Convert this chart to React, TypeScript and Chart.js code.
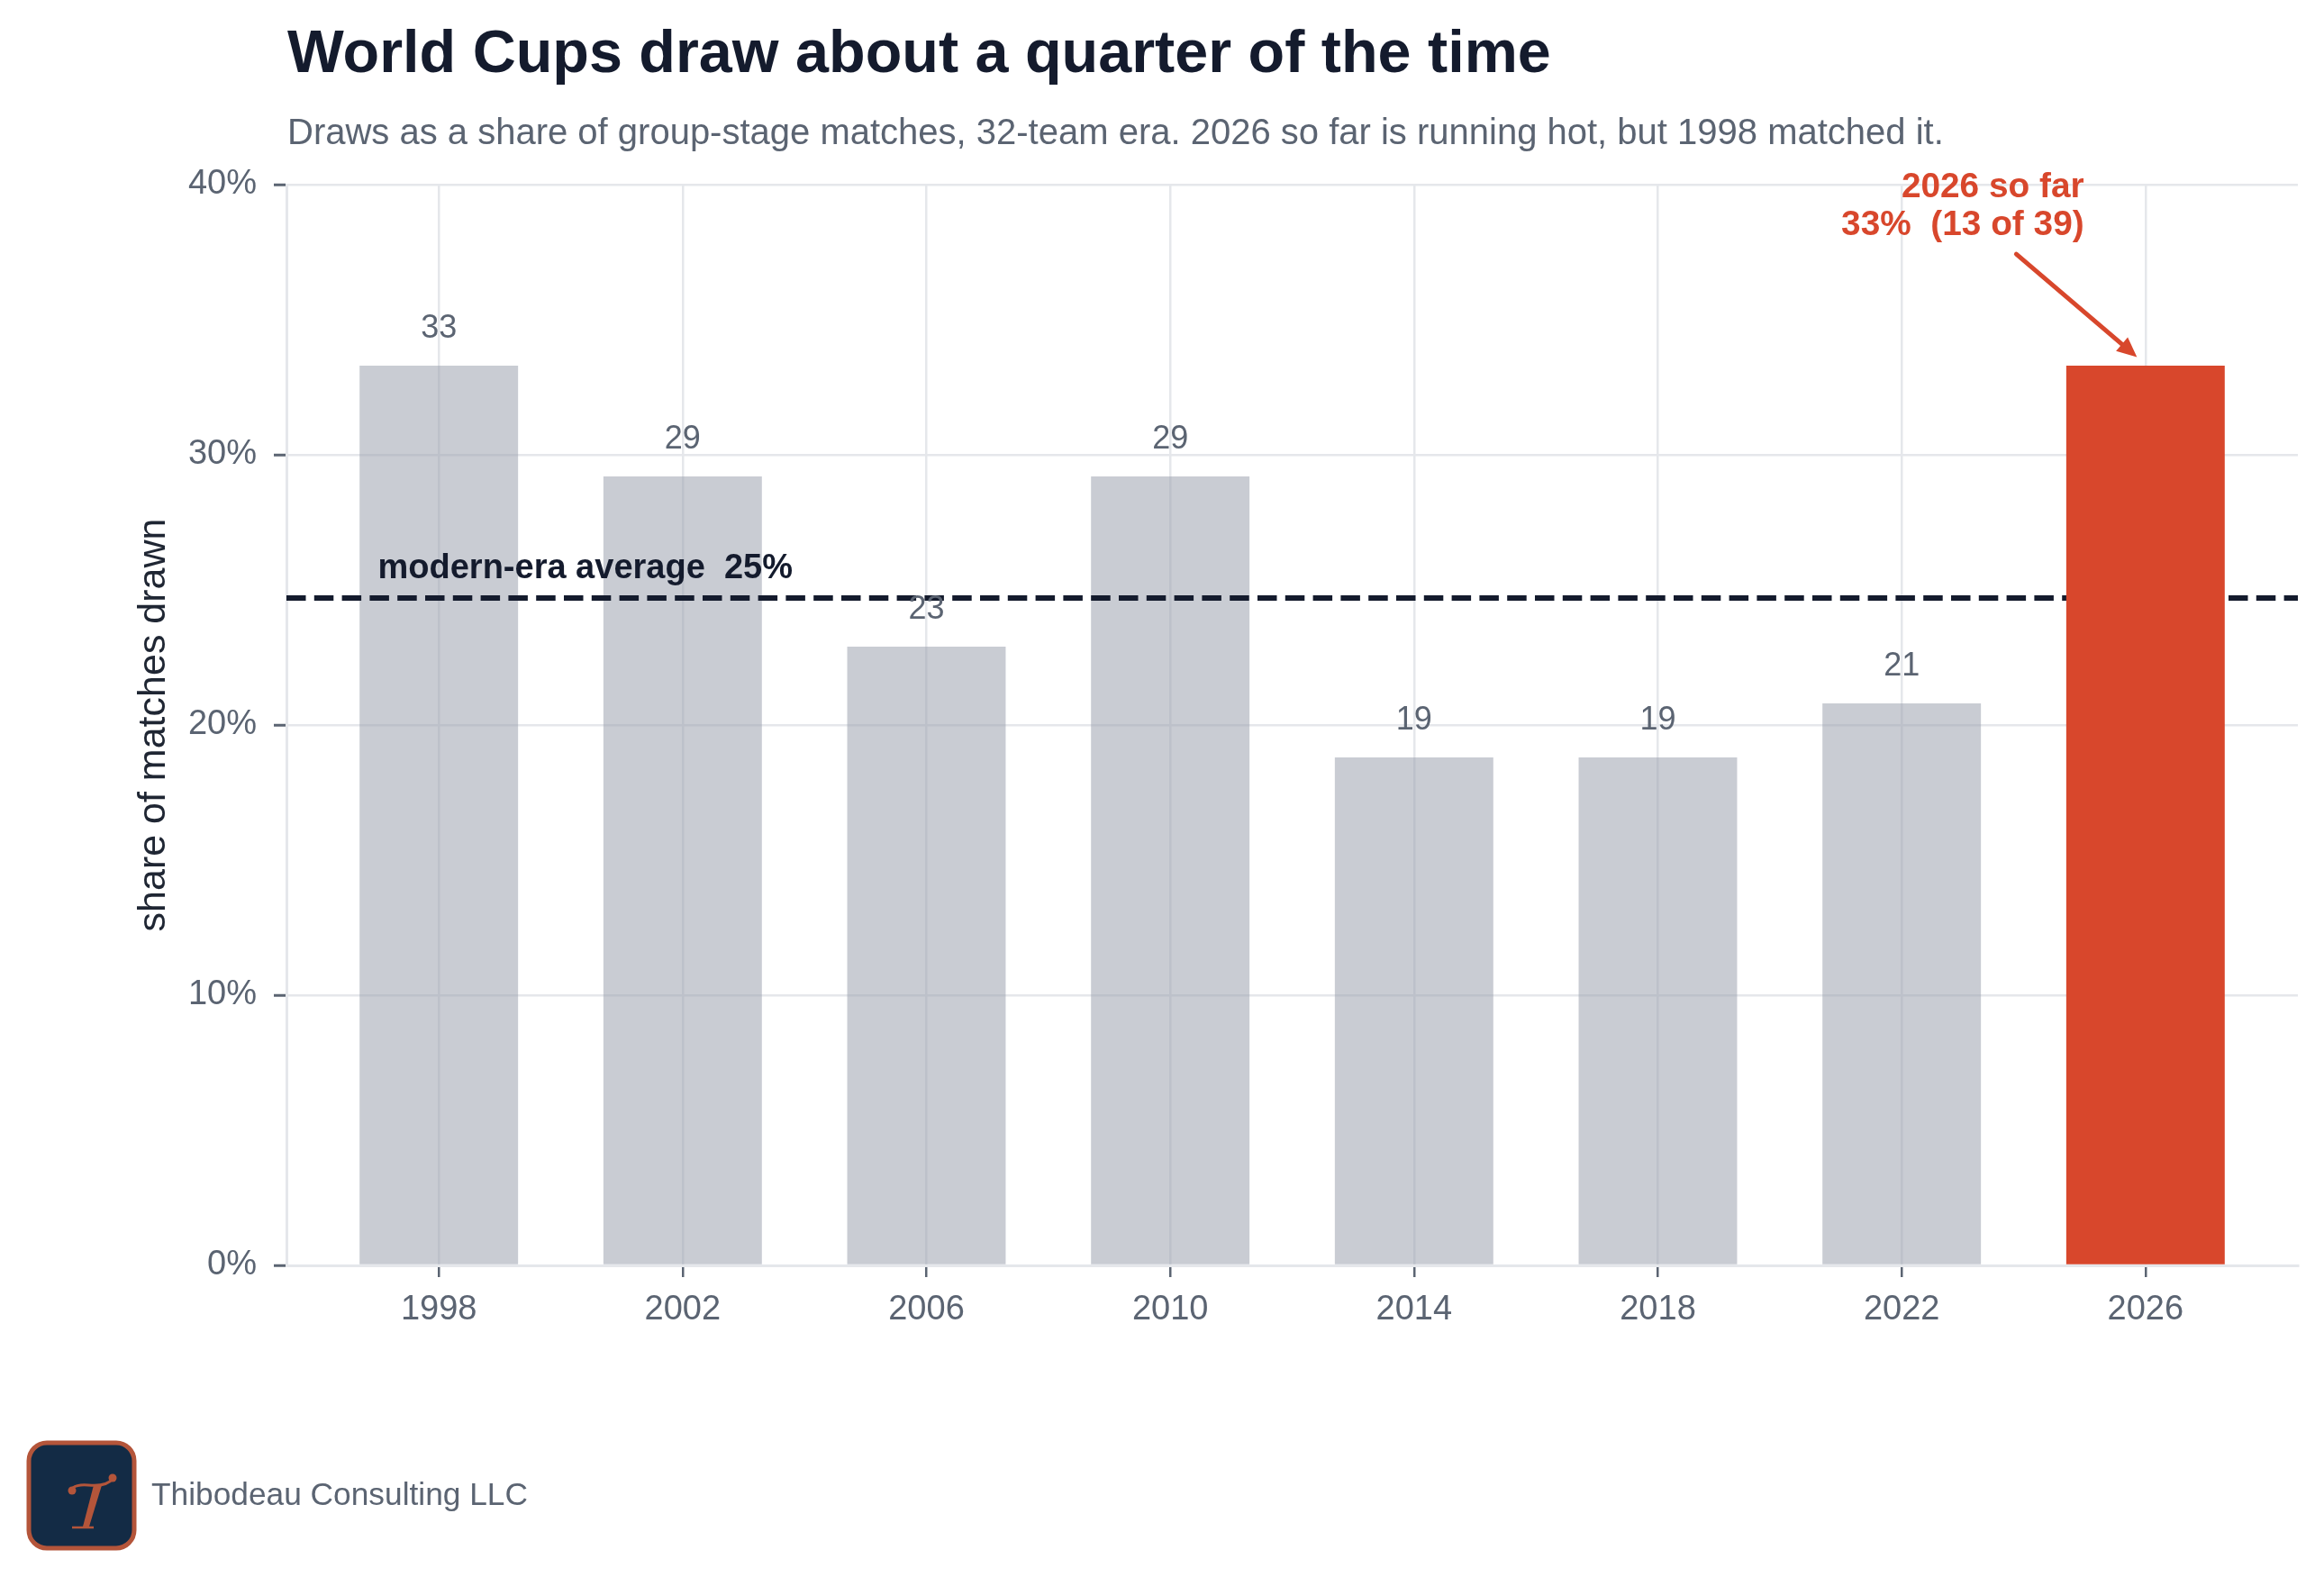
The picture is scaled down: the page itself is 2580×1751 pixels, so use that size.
import React, { useEffect, useRef } from 'react';
import { Chart, registerables } from 'chart.js';

Chart.register(...registerables);

// ---- data ----
const years = ['1998', '2002', '2006', '2010', '2014', '2018', '2022', '2026'];
const pastShare = [33.3, 29.2, 22.9, 29.2, 18.8, 18.8, 20.8];
const currentShare = 33.3;
const currentDraws = 13;
const currentMatches = 39;
const modernAverage = 24.7;
const yTickValues = [0, 10, 20, 30, 40];

const titleText = 'World Cups draw about a quarter of the time';
const subtitleText =
  'Draws as a share of group-stage matches, 32-team era. 2026 so far is running hot, but 1998 matched it.';
const yAxisTitle = 'share of matches drawn';
const companyName = 'Thibodeau Consulting LLC';

// ---- style ----
const FONT = '"Liberation Sans", Arial, Helvetica, sans-serif';
const DARK = '#141b2d';
const SLATE = '#5b6472';
const GRID = '#e5e7eb';
const BAR_GRAY = 'rgba(156,163,175,0.55)';
const RED = '#d8472c';
const NAVY = '#132b45';
const RUST = '#b4553a';

const X_MIN = -0.625;
const X_MAX = years.length - 1 + 0.625;

function drawLogo(ctx: CanvasRenderingContext2D) {
  const lx = 32, ly = 1602, lw = 117, lh = 117, r = 20;
  ctx.save();
  ctx.beginPath();
  ctx.moveTo(lx + r, ly);
  ctx.arcTo(lx + lw, ly, lx + lw, ly + lh, r);
  ctx.arcTo(lx + lw, ly + lh, lx, ly + lh, r);
  ctx.arcTo(lx, ly + lh, lx, ly, r);
  ctx.arcTo(lx, ly, lx + lw, ly, r);
  ctx.closePath();
  ctx.fillStyle = NAVY;
  ctx.fill();
  ctx.lineWidth = 5;
  ctx.strokeStyle = RUST;
  ctx.stroke();

  // calligraphic T
  ctx.fillStyle = RUST;
  ctx.strokeStyle = RUST;
  // crossbar
  ctx.lineWidth = 3;
  ctx.lineCap = 'round';
  ctx.beginPath();
  ctx.moveTo(81, 1652);
  ctx.quadraticCurveTo(86, 1648, 98, 1649);
  ctx.quadraticCurveTo(118, 1651, 125, 1642);
  ctx.stroke();
  // balls
  ctx.beginPath();
  ctx.arc(80, 1655, 4.5, 0, Math.PI * 2);
  ctx.fill();
  ctx.beginPath();
  ctx.arc(125, 1641, 4.5, 0, Math.PI * 2);
  ctx.fill();
  // stem
  ctx.beginPath();
  ctx.moveTo(104, 1649);
  ctx.lineTo(113, 1649);
  ctx.lineTo(99, 1695);
  ctx.lineTo(92, 1695);
  ctx.closePath();
  ctx.fill();
  // foot serif
  ctx.lineWidth = 2.5;
  ctx.lineCap = 'butt';
  ctx.beginPath();
  ctx.moveTo(80, 1696);
  ctx.lineTo(104, 1696);
  ctx.stroke();
  ctx.restore();
}

const overlayPlugin = {
  id: 'overlay',
  afterDatasetsDraw(chart: any) {
    const { ctx } = chart;
    const x = chart.scales.x;
    const y = chart.scales.y;
    ctx.save();

    // value labels above grey bars
    const meta = chart.getDatasetMeta(0);
    ctx.font = `36px ${FONT}`;
    ctx.fillStyle = SLATE;
    ctx.textAlign = 'center';
    ctx.textBaseline = 'alphabetic';
    meta.data.forEach((bar: any, i: number) => {
      ctx.fillText(String(Math.round(pastShare[i])), bar.x, bar.y - 31);
    });

    // average label
    ctx.font = `bold 38px ${FONT}`;
    ctx.fillStyle = DARK;
    ctx.textAlign = 'left';
    ctx.fillText(
      `modern-era average  ${Math.round(modernAverage)}%`,
      x.getPixelForValue(-0.25),
      y.getPixelForValue(modernAverage + 0.74)
    );

    // 2026 annotation
    ctx.font = `bold 38.8px ${FONT}`;
    ctx.fillStyle = RED;
    ctx.textAlign = 'right';
    const ax = x.getPixelForValue(6.748);
    const ay2 = y.getPixelForValue(38.13);
    ctx.fillText('2026 so far', ax, ay2 - 42);
    ctx.fillText(
      `${Math.round(currentShare)}%  (${currentDraws} of ${currentMatches})`,
      ax,
      ay2
    );

    // arrow
    const x0 = x.getPixelForValue(6.47);
    const y0 = y.getPixelForValue(37.43);
    const x1 = x.getPixelForValue(6.965);
    const y1 = y.getPixelForValue(33.62);
    const ang = Math.atan2(y1 - y0, x1 - x0);
    const headLen = 22;
    const headHalf = 10;
    const bx = x1 - headLen * Math.cos(ang);
    const by = y1 - headLen * Math.sin(ang);
    ctx.strokeStyle = RED;
    ctx.lineWidth = 5;
    ctx.lineCap = 'round';
    ctx.beginPath();
    ctx.moveTo(x0, y0);
    ctx.lineTo(bx, by);
    ctx.stroke();
    ctx.fillStyle = RED;
    ctx.beginPath();
    ctx.moveTo(x1, y1);
    ctx.lineTo(bx + headHalf * Math.sin(ang), by - headHalf * Math.cos(ang));
    ctx.lineTo(bx - headHalf * Math.sin(ang), by + headHalf * Math.cos(ang));
    ctx.closePath();
    ctx.fill();

    ctx.restore();
  },
  afterDraw(chart: any) {
    const { ctx } = chart;
    ctx.save();
    ctx.textBaseline = 'alphabetic';
    ctx.textAlign = 'left';

    ctx.font = `bold 66.5px ${FONT}`;
    ctx.fillStyle = DARK;
    ctx.fillText(titleText, 319, 80);

    ctx.font = `40px ${FONT}`;
    ctx.fillStyle = SLATE;
    ctx.fillText(subtitleText, 319, 160);

    drawLogo(ctx);

    ctx.textAlign = 'left';
    ctx.font = `35.3px ${FONT}`;
    ctx.fillStyle = SLATE;
    ctx.fillText(companyName, 168, 1671);

    ctx.restore();
  },
};

export default function App() {
  const canvasRef = useRef<HTMLCanvasElement | null>(null);

  useEffect(() => {
    document.body.style.margin = '0';
    const canvas = canvasRef.current;
    if (!canvas) return;
    Chart.defaults.font.family = FONT;

    const chart = new Chart(canvas, {
      type: 'bar',
      data: {
        datasets: [
          {
            type: 'bar',
            label: 'past',
            data: pastShare.map((v, i) => ({ x: i, y: v })),
            backgroundColor: BAR_GRAY,
            borderWidth: 0,
            grouped: false,
            categoryPercentage: 1,
            barPercentage: 0.65,
            order: 2,
          } as any,
          {
            type: 'line',
            label: 'average',
            data: [
              { x: X_MIN, y: modernAverage },
              { x: X_MAX, y: modernAverage },
            ],
            borderColor: DARK,
            borderWidth: 5.8,
            borderDash: [21.5, 9.3],
            borderCapStyle: 'butt',
            pointRadius: 0,
            fill: false,
            order: 1,
          } as any,
          {
            type: 'bar',
            label: '2026',
            data: [{ x: years.length - 1, y: currentShare }],
            backgroundColor: RED,
            borderWidth: 0,
            grouped: false,
            categoryPercentage: 1,
            barPercentage: 0.65,
            order: 0,
          } as any,
        ],
      },
      options: {
        animation: false,
        responsive: true,
        maintainAspectRatio: false,
        events: [],
        layout: { padding: { left: 0, top: 205, right: 29, bottom: 246 } },
        plugins: {
          legend: { display: false },
          tooltip: { enabled: false },
          title: { display: false },
        },
        scales: {
          x: {
            type: 'linear',
            min: X_MIN,
            max: X_MAX,
            offset: false,
            afterBuildTicks: (scale: any) => {
              scale.ticks = years.map((_, i) => ({ value: i }));
            },
            afterFit: (scale: any) => {
              scale.height = 100;
            },
            ticks: {
              autoSkip: false,
              maxRotation: 0,
              padding: 14,
              color: SLATE,
              font: { size: 38, family: FONT },
              callback: (v: any) => years[Math.round(Number(v))] ?? '',
            },
            grid: {
              offset: false,
              color: GRID,
              lineWidth: 2.5,
              tickColor: SLATE,
              tickLength: 13,
              tickWidth: 2.5,
            },
            border: { display: true, color: GRID, width: 3 },
          },
          y: {
            type: 'linear',
            min: 0,
            max: 40,
            afterBuildTicks: (scale: any) => {
              scale.ticks = yTickValues.map((v) => ({ value: v }));
            },
            afterFit: (scale: any) => {
              scale.width = 318;
            },
            ticks: {
              padding: 19,
              color: SLATE,
              font: { size: 38, family: FONT },
              callback: (v: any) => `${v}%`,
            },
            grid: {
              color: GRID,
              lineWidth: 2.5,
              tickColor: SLATE,
              tickLength: 14,
              tickWidth: 3,
            },
            border: { display: true, color: GRID, width: 3 },
            title: {
              display: true,
              text: yAxisTitle,
              color: '#1f2633',
              font: { size: 43, family: FONT },
              padding: { top: 145, bottom: 0 },
            },
          },
        },
      },
      plugins: [overlayPlugin],
    } as any);

    return () => chart.destroy();
  }, []);

  return (
    <div style={{ width: 2580, height: 1751, position: 'relative' }}>
      <canvas ref={canvasRef} />
    </div>
  );
}
